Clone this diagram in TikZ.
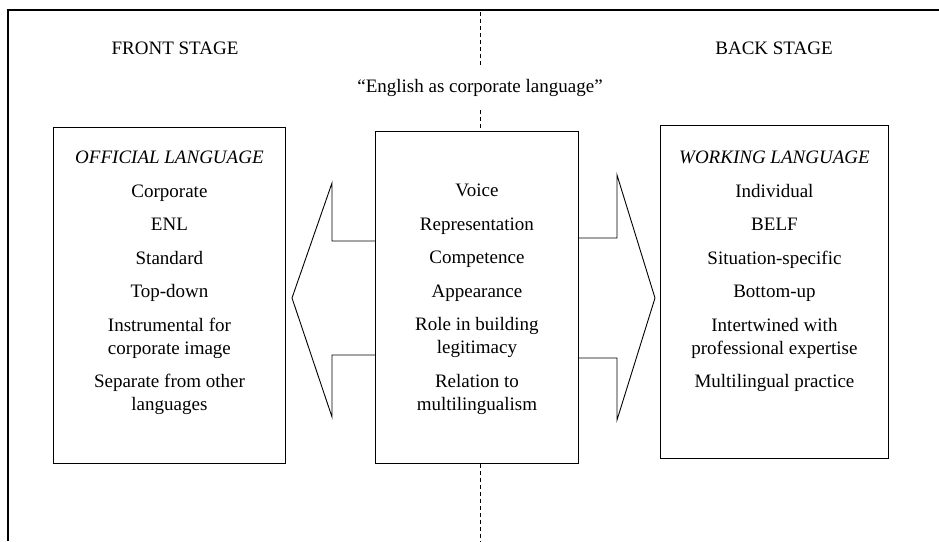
\documentclass[tikz,border=0pt]{standalone}
\usepackage{fontspec}
\setmainfont{Liberation Serif}
\usetikzlibrary{calc}
\begin{document}
\begin{tikzpicture}[x=1pt,y=-1pt,
  box/.style={draw, line width=0.9pt, inner sep=0pt, anchor=north west},
  txt/.style={align=center, inner sep=0pt, anchor=north, font=\fontsize{19}{23}\selectfont},
  lbl/.style={inner sep=0pt, font=\fontsize{19}{23}\selectfont},
  frameline/.style={line width=1.3pt},
  divider/.style={dashed, line width=0.5pt, dash pattern=on 4pt off 3pt},
  bigarrow/.style={line width=0.9pt, line join=miter}]
\useasboundingbox (0,0) rectangle (939,541);
% frame
\coordinate (fbl) at (8,541);
\coordinate (ftl) at (8,10);
\coordinate (ftr) at (939,10);
\draw[frameline] (fbl) -- (ftl) -- (ftr);
% headings
\node[lbl] (front) at (175,48) {FRONT STAGE};
\node[lbl] (back) at (774,48) {BACK STAGE};
\node[lbl] (quote) at (480,88) {``English as corporate language''};
% boxes
\node[box, minimum width=232pt, minimum height=336pt] (left) at (53,127) {};
\node[box, minimum width=203pt, minimum height=332pt] (mid) at (375,131) {};
\node[box, minimum width=228pt, minimum height=333pt] (right) at (660,125) {};
% texts
\node[txt] (lt) at ($(left.north)+(0,24)$) {\itshape OFFICIAL LANGUAGE\\[10.5pt]
Corporate\\[10.5pt] ENL\\[10.5pt] Standard\\[10.5pt] Top-down\\[10.5pt]
Instrumental for\\ corporate image\\[10.5pt] Separate from other\\ languages};
\node[txt] (mt) at ($(mid.north)+(0,53)$) {Voice\\[10.5pt] Representation\\[10.5pt]
Competence\\[10.5pt] Appearance\\[10.5pt] Role in building\\ legitimacy\\[10.5pt]
Relation to\\ multilingualism};
\node[txt] (rt) at ($(right.north)+(0,26)$) {\itshape WORKING LANGUAGE\\[10.5pt]
Individual\\[10.5pt] BELF\\[10.5pt] Situation-specific\\[10.5pt] Bottom-up\\[10.5pt]
Intertwined with\\ professional expertise\\[10.5pt] Multilingual practice};
% dashed divider
\coordinate (dtop) at (480,12);
\coordinate (dbot) at (480,541);
\draw[divider] (dtop) -- (480,66);
\draw[divider] (480,110) -- (mid.north -| dtop);
\draw[divider] (mid.south -| dbot) -- (dbot);
% arrows
\draw[bigarrow] (mid.west |- 0,241) -- (332,241) -- (332,183) -- (292,298)
  -- (332,417) -- (332,355) -- (mid.west |- 0,355);
\draw[bigarrow] (mid.east |- 0,238) -- (617,238) -- (617,175) -- (655,298)
  -- (617,420) -- (617,358) -- (mid.east |- 0,358);
\end{tikzpicture}
\end{document}
